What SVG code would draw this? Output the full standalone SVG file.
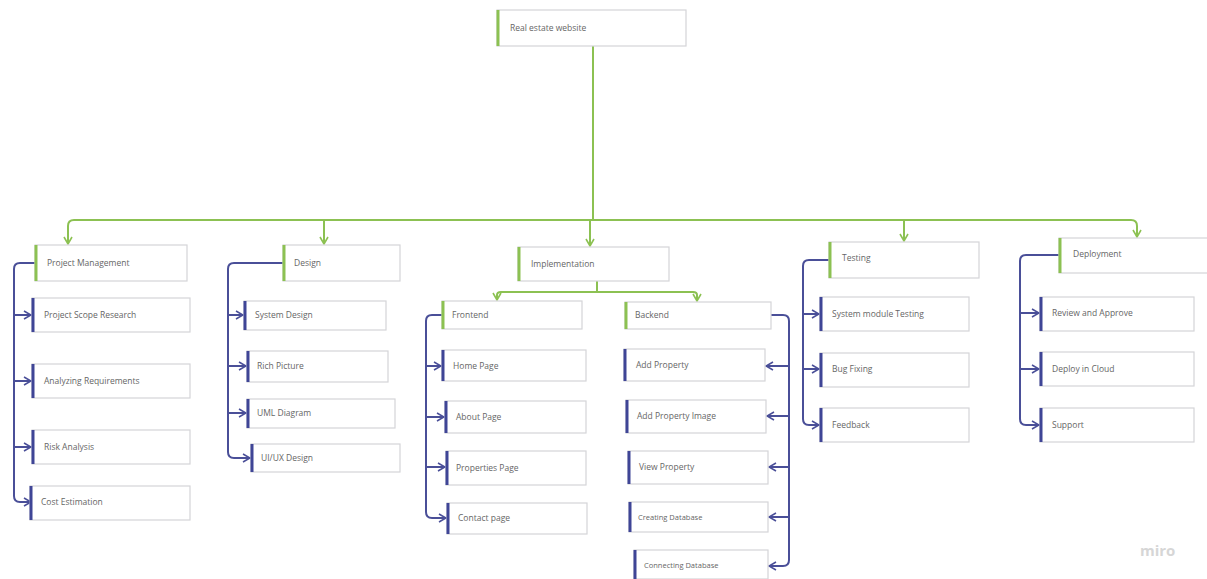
<svg xmlns="http://www.w3.org/2000/svg" width="1207" height="579" viewBox="0 0 1207 579">
<style>
.box{fill:#fff;stroke:#d4d4d8;stroke-width:1.2}
.gbar{stroke:#8cc152;stroke-width:3}
.bbar{stroke:#3f4596;stroke-width:3}
.t{font-family:"Open Sans","Liberation Sans",sans-serif;font-size:8.5px;fill:#666}
.g{fill:none;stroke:#8cc152;stroke-width:2}
.b{fill:none;stroke:#4a4f98;stroke-width:2}
</style>
<defs>
<marker id="ag" viewBox="0 0 10 10" refX="9" refY="5" markerWidth="10" markerHeight="10" markerUnits="userSpaceOnUse" orient="auto"><path d="M2,1 L9,5 L2,9" fill="none" stroke="#8cc152" stroke-width="1.6"/></marker>
<marker id="ab" viewBox="0 0 10 10" refX="9" refY="5" markerWidth="10" markerHeight="10" markerUnits="userSpaceOnUse" orient="auto"><path d="M2,1 L9,5 L2,9" fill="none" stroke="#4a4f98" stroke-width="1.6"/></marker>
</defs>
<rect width="1207" height="579" fill="#fff"/>
<g id="connectors">
<path class="g" d="M593,46 V220"/>
<path class="g" d="M593,220 H74 Q68,220 68,226 V244" marker-end="url(#ag)"/>
<path class="g" d="M593,220 H1131 Q1137,220 1137,226 V237" marker-end="url(#ag)"/>
<path class="g" d="M324,220 V244" marker-end="url(#ag)"/>
<path class="g" d="M590,220 V246" marker-end="url(#ag)"/>
<path class="g" d="M904,220 V241" marker-end="url(#ag)"/>
<path class="g" d="M597,281 V292 H501 Q497,292 497,295 V300" marker-end="url(#ag)"/>
<path class="g" d="M597,292 H693 Q697,292 697,295 V301" marker-end="url(#ag)"/>
<path class="b" d="M35,263 H20 Q14,263 14,269 V496 Q14,502 20,502 H31" marker-end="url(#ab)"/>
<path class="b" d="M14,315 H31" marker-end="url(#ab)"/>
<path class="b" d="M14,381 H31" marker-end="url(#ab)"/>
<path class="b" d="M14,447 H31" marker-end="url(#ab)"/>
<path class="b" d="M283,263 H234 Q228,263 228,269 V452 Q228,458 234,458 H250" marker-end="url(#ab)"/>
<path class="b" d="M228,315 H243" marker-end="url(#ab)"/>
<path class="b" d="M228,366 H246" marker-end="url(#ab)"/>
<path class="b" d="M228,413 H246" marker-end="url(#ab)"/>
<path class="b" d="M442,315 H432 Q426,315 426,321 V512 Q426,518 432,518 H446" marker-end="url(#ab)"/>
<path class="b" d="M426,366 H441" marker-end="url(#ab)"/>
<path class="b" d="M426,417 H444" marker-end="url(#ab)"/>
<path class="b" d="M426,467 H445" marker-end="url(#ab)"/>
<path class="b" d="M771,315 H783 Q789,315 789,321 V560 Q789,566 783,566 H769" marker-end="url(#ab)"/>
<path class="b" d="M789,366 H766" marker-end="url(#ab)"/>
<path class="b" d="M789,416 H767" marker-end="url(#ab)"/>
<path class="b" d="M789,467 H769" marker-end="url(#ab)"/>
<path class="b" d="M789,517 H769" marker-end="url(#ab)"/>
<path class="b" d="M829,260 H809 Q803,260 803,266 V419 Q803,425 809,425 H819" marker-end="url(#ab)"/>
<path class="b" d="M803,314 H819" marker-end="url(#ab)"/>
<path class="b" d="M803,369 H819" marker-end="url(#ab)"/>
<path class="b" d="M1059,255 H1026 Q1020,255 1020,261 V419 Q1020,425 1026,425 H1039" marker-end="url(#ab)"/>
<path class="b" d="M1020,313 H1039" marker-end="url(#ab)"/>
<path class="b" d="M1020,369 H1039" marker-end="url(#ab)"/>
</g>
<g id="root"><rect class="box" x="497" y="10" width="189" height="36"/><line class="gbar" x1="498" y1="10" x2="498" y2="46"/><text class="t" x="510" y="31">Real estate website</text></g>
<g id="pm"><rect class="box" x="35" y="245" width="152" height="36"/><line class="gbar" x1="36" y1="245" x2="36" y2="281"/><text class="t" x="47" y="266">Project Management</text></g>
<g id="pm1"><rect class="box" x="32" y="298" width="158" height="34"/><line class="bbar" x1="33" y1="298" x2="33" y2="332"/><text class="t" x="44" y="318">Project Scope Research</text></g>
<g id="pm2"><rect class="box" x="32" y="364" width="158" height="34"/><line class="bbar" x1="33" y1="364" x2="33" y2="398"/><text class="t" x="44" y="384">Analyzing Requirements</text></g>
<g id="pm3"><rect class="box" x="32" y="430" width="158" height="34"/><line class="bbar" x1="33" y1="430" x2="33" y2="464"/><text class="t" x="44" y="450">Risk Analysis</text></g>
<g id="pm4"><rect class="box" x="30" y="486" width="160" height="34"/><line class="bbar" x1="31" y1="486" x2="31" y2="520"/><text class="t" x="41" y="505">Cost Estimation</text></g>
<g id="design"><rect class="box" x="283" y="245" width="117" height="36"/><line class="gbar" x1="284" y1="245" x2="284" y2="281"/><text class="t" x="294" y="266">Design</text></g>
<g id="d1"><rect class="box" x="244" y="301" width="142" height="29"/><line class="bbar" x1="245" y1="301" x2="245" y2="330"/><text class="t" x="255" y="318">System Design</text></g>
<g id="d2"><rect class="box" x="247" y="351" width="141" height="31"/><line class="bbar" x1="248" y1="351" x2="248" y2="382"/><text class="t" x="257" y="369">Rich Picture</text></g>
<g id="d3"><rect class="box" x="247" y="399" width="148" height="29"/><line class="bbar" x1="248" y1="399" x2="248" y2="428"/><text class="t" x="257" y="416">UML Diagram</text></g>
<g id="d4"><rect class="box" x="251" y="444" width="149" height="28"/><line class="bbar" x1="252" y1="444" x2="252" y2="472"/><text class="t" x="261" y="461">UI/UX Design</text></g>
<g id="impl"><rect class="box" x="518" y="247" width="151" height="34"/><line class="gbar" x1="519" y1="247" x2="519" y2="281"/><text class="t" x="531" y="267">Implementation</text></g>
<g id="frontend"><rect class="box" x="442" y="301" width="140" height="28"/><line class="gbar" x1="443" y1="301" x2="443" y2="329"/><text class="t" x="452" y="318">Frontend</text></g>
<g id="f1"><rect class="box" x="442" y="350" width="144" height="31"/><line class="bbar" x1="443" y1="350" x2="443" y2="381"/><text class="t" x="453" y="369">Home Page</text></g>
<g id="f2"><rect class="box" x="445" y="401" width="141" height="32"/><line class="bbar" x1="446" y1="401" x2="446" y2="433"/><text class="t" x="456" y="420">About Page</text></g>
<g id="f3"><rect class="box" x="446" y="451" width="140" height="34"/><line class="bbar" x1="447" y1="451" x2="447" y2="485"/><text class="t" x="456" y="471">Properties Page</text></g>
<g id="f4"><rect class="box" x="447" y="503" width="140" height="31"/><line class="bbar" x1="448" y1="503" x2="448" y2="534"/><text class="t" x="458" y="521">Contact page</text></g>
<g id="backend"><rect class="box" x="625" y="302" width="146" height="27"/><line class="gbar" x1="626" y1="302" x2="626" y2="329"/><text class="t" x="635" y="318">Backend</text></g>
<g id="b1"><rect class="box" x="624" y="349" width="141" height="32"/><line class="bbar" x1="625" y1="349" x2="625" y2="381"/><text class="t" x="636" y="368">Add Property</text></g>
<g id="b2"><rect class="box" x="626" y="400" width="140" height="33"/><line class="bbar" x1="627" y1="400" x2="627" y2="433"/><text class="t" x="637" y="419">Add Property Image</text></g>
<g id="b3"><rect class="box" x="628" y="451" width="140" height="33"/><line class="bbar" x1="629" y1="451" x2="629" y2="484"/><text class="t" x="639" y="470">View Property</text></g>
<g id="b4"><rect class="box" x="629" y="502" width="139" height="30"/><line class="bbar" x1="630" y1="502" x2="630" y2="532"/><text class="t" x="638" y="520" style="font-size:7.5px">Creating Database</text></g>
<g id="b5"><rect class="box" x="634" y="550" width="134" height="29"/><line class="bbar" x1="635" y1="550" x2="635" y2="579"/><text class="t" x="644" y="568" style="font-size:7.5px">Connecting Database</text></g>
<g id="testing"><rect class="box" x="829" y="242" width="150" height="36"/><line class="gbar" x1="830" y1="242" x2="830" y2="278"/><text class="t" x="842" y="261">Testing</text></g>
<g id="t1"><rect class="box" x="820" y="297" width="149" height="34"/><line class="bbar" x1="821" y1="297" x2="821" y2="331"/><text class="t" x="832" y="317">System module Testing</text></g>
<g id="t2"><rect class="box" x="820" y="353" width="149" height="34"/><line class="bbar" x1="821" y1="353" x2="821" y2="387"/><text class="t" x="832" y="372">Bug Fixing</text></g>
<g id="t3"><rect class="box" x="820" y="408" width="149" height="34"/><line class="bbar" x1="821" y1="408" x2="821" y2="442"/><text class="t" x="832" y="428">Feedback</text></g>
<g id="deploy"><rect class="box" x="1059" y="238" width="152" height="35"/><line class="gbar" x1="1060" y1="238" x2="1060" y2="273"/><text class="t" x="1073" y="257">Deployment</text></g>
<g id="p1"><rect class="box" x="1040" y="297" width="154" height="34"/><line class="bbar" x1="1041" y1="297" x2="1041" y2="331"/><text class="t" x="1052" y="316">Review and Approve</text></g>
<g id="p2"><rect class="box" x="1040" y="352" width="154" height="34"/><line class="bbar" x1="1041" y1="352" x2="1041" y2="386"/><text class="t" x="1052" y="372">Deploy in Cloud</text></g>
<g id="p3"><rect class="box" x="1040" y="408" width="154" height="34"/><line class="bbar" x1="1041" y1="408" x2="1041" y2="442"/><text class="t" x="1052" y="428">Support</text></g>
<text x="1140" y="556" style="font-family:'Open Sans','Liberation Sans',sans-serif;font-size:15px;font-weight:bold;fill:#d6d6d6">miro</text>
</svg>
